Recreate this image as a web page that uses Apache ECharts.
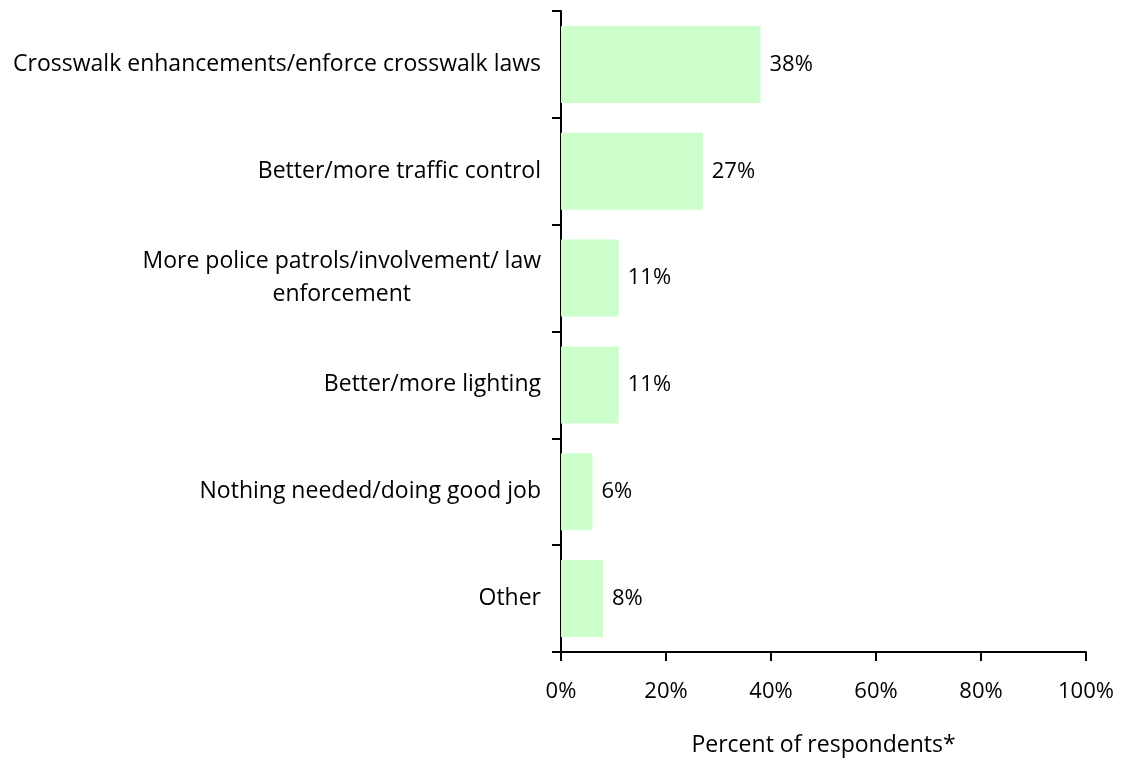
<!DOCTYPE html>
<html>
<head>
<meta charset="utf-8">
<script src="https://cdn.jsdelivr.net/npm/echarts@6/dist/echarts.min.js"></script>
<style>
  html, body { margin: 0; padding: 0; background: #fff; }
  #chart { width: 1121px; height: 762px; }
</style>
</head>
<body>
<div id="chart"></div>
<script>
// 类别（从上到下）
const categories = [
  'Crosswalk enhancements/enforce crosswalk laws',
  'Better/more traffic control',
  'More police patrols/involvement/ law\nenforcement',
  'Better/more lighting',
  'Nothing needed/doing good job',
  'Other'
];
// 百分比
const percents = [38, 27, 11, 11, 6, 8];
const xTicks = [0, 20, 40, 60, 80, 100];

const fontFamily = "'Open Sans', 'Noto Sans', sans-serif";
const chart = echarts.init(document.getElementById('chart'));

const option = {
  animation: false,
  grid: { left: 561, right: 35, top: 11, bottom: 110, containLabel: false, outerBoundsMode: 'none' },
  xAxis: {
    type: 'value',
    min: xTicks[0],
    max: xTicks[xTicks.length - 1],
    interval: 20,
    name: 'Percent of respondents*',
    nameLocation: 'middle',
    nameGap: 82,
    nameTextStyle: { color: '#000', fontSize: 23, fontFamily: fontFamily },
    axisLine: { show: true, lineStyle: { color: '#000', width: 2 } },
    axisTick: { show: true, length: 9, lineStyle: { color: '#000', width: 2 } },
    axisLabel: {
      color: '#000', fontSize: 22, fontFamily: fontFamily, margin: 29,
      formatter: v => v + '%'
    },
    splitLine: { show: false }
  },
  yAxis: {
    type: 'category',
    inverse: true,
    data: categories,
    axisLine: { show: true, lineStyle: { color: '#000', width: 2 } },
    axisTick: { show: true, length: 9, lineStyle: { color: '#000', width: 2 } },
    axisLabel: {
      color: '#000', fontSize: 23, fontFamily: fontFamily, margin: 20,
      lineHeight: 33,
      formatter: v => v.split('\n').map(s => '{c|' + s + '}').join('\n'),
      rich: { c: { align: 'center', color: '#000', fontSize: 23, fontFamily: fontFamily, lineHeight: 33 } }
    }
  },
  series: [{
    type: 'bar',
    data: percents,
    barCategoryGap: '28%',
    itemStyle: { color: '#ccffcc' },
    label: {
      show: true,
      position: 'right',
      distance: 9,
      color: '#000',
      fontSize: 22,
      fontFamily: fontFamily,
      formatter: p => p.value + '%'
    }
  }]
};

chart.setOption(option);
</script>
</body>
</html>
